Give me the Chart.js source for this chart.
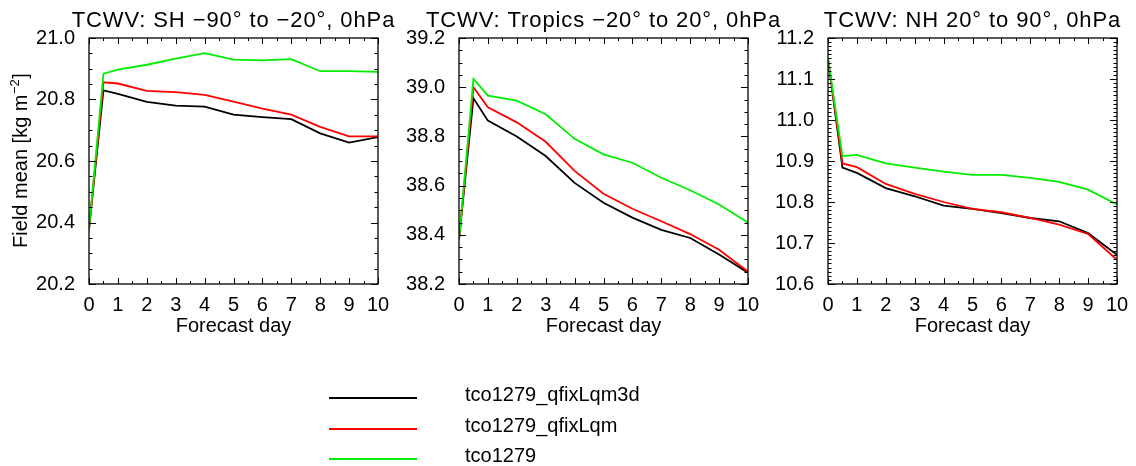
<!DOCTYPE html>
<html><head><meta charset="utf-8">
<script src="https://cdn.jsdelivr.net/npm/chart.js@4.4.1/dist/chart.umd.min.js"></script>
<style>
html,body{margin:0;padding:0;background:#fff;}
#wrap{position:relative;width:1136px;height:466px;overflow:hidden;background:#fff;}
canvas{position:absolute;left:0;top:0;}
</style></head><body>
<div id="wrap">
<canvas id="c1" width="1136" height="466"></canvas>
<canvas id="c2" width="1136" height="466"></canvas>
<canvas id="c3" width="1136" height="466"></canvas>
</div>
<script>
// ---------- data ----------
const days = [0, 0.5, 1, 2, 3, 4, 5, 6, 7, 8, 9, 10];
const xTickValues = [0, 1, 2, 3, 4, 5, 6, 7, 8, 9, 10];
const seriesNames = ['tco1279_qfixLqm3d', 'tco1279_qfixLqm', 'tco1279'];
const seriesColors = ['#000000', '#ff0000', '#00ee00'];
const panelTitles = [
  'TCWV: SH \u221290\u00b0 to \u221220\u00b0, 0hPa',
  'TCWV: Tropics \u221220\u00b0 to 20\u00b0, 0hPa',
  'TCWV: NH 20\u00b0 to 90\u00b0, 0hPa'
];
const xTitle = 'Forecast day';
const yTitleMain = 'Field mean [kg m';
const yTitleSup = '\u22122';
const yTitleEnd = ']';

const shBlack = [20.378, 20.830, 20.818, 20.792, 20.780, 20.777, 20.751, 20.743, 20.736, 20.690, 20.660, 20.678];
const shRed   = [20.378, 20.856, 20.852, 20.828, 20.824, 20.815, 20.793, 20.770, 20.751, 20.711, 20.680, 20.680];
const shGreen = [20.378, 20.884, 20.897, 20.913, 20.933, 20.951, 20.930, 20.927, 20.931, 20.892, 20.892, 20.890];

const trBlack = [38.38, 38.955, 38.864, 38.800, 38.720, 38.611, 38.530, 38.470, 38.420, 38.387, 38.320, 38.246];
const trRed   = [38.38, 39.000, 38.918, 38.857, 38.778, 38.660, 38.567, 38.506, 38.455, 38.403, 38.339, 38.250];
const trGreen = [38.38, 39.034, 38.966, 38.945, 38.890, 38.790, 38.727, 38.693, 38.632, 38.581, 38.523, 38.450];

const nhBlack = [11.149, 10.884, 10.871, 10.834, 10.814, 10.791, 10.783, 10.773, 10.761, 10.753, 10.724, 10.671];
const nhRed   = [11.149, 10.894, 10.885, 10.844, 10.820, 10.800, 10.783, 10.775, 10.761, 10.745, 10.722, 10.659];
const nhGreen = [11.149, 10.912, 10.915, 10.894, 10.884, 10.874, 10.866, 10.866, 10.859, 10.849, 10.830, 10.794];

const yTicksSH = [20.2, 20.4, 20.6, 20.8, 21.0];
const yTicksTR = [38.2, 38.4, 38.6, 38.8, 39.0, 39.2];
const yTicksNH = [10.6, 10.7, 10.8, 10.9, 11.0, 11.1, 11.2];

// ---------- layout ----------
const FONT = '"Liberation Sans", Arial, Helvetica, sans-serif';
Chart.defaults.font.family = FONT;
Chart.defaults.color = '#000';

const panels = [
  {id: 'c1', series: [shBlack, shRed, shGreen], yTicks: yTicksSH, yMajor: 0.2, yMinor: 0.05, plotLeft: 89, plotRight: 378, title: panelTitles[0], yTitle: true, legend: true},
  {id: 'c2', series: [trBlack, trRed, trGreen], yTicks: yTicksTR, yMajor: 0.2, yMinor: 0.05, plotLeft: 459, plotRight: 748, title: panelTitles[1], yTitle: false, legend: false},
  {id: 'c3', series: [nhBlack, nhRed, nhGreen], yTicks: yTicksNH, yMajor: 0.1, yMinor: 0.01, plotLeft: 828, plotRight: 1117, title: panelTitles[2], yTitle: false, legend: false}
];
const PLOT_TOP = 38, PLOT_BOTTOM = 284, YAXIS_W = 60, XAXIS_H = 60, W = 1136, H = 466;

function isMult(v, step) {
  const r = v / step;
  return Math.abs(r - Math.round(r)) < 1e-6;
}

const panelPlugin = {
  id: 'panel',
  afterDraw(chart, args, opt) {
    const ctx = chart.ctx;
    const {left, right, top, bottom} = chart.chartArea;
    const xs = chart.scales.x, ys = chart.scales.y;
    ctx.save();
    ctx.strokeStyle = '#000';
    ctx.lineWidth = 1;
    ctx.beginPath();
    const nx = Math.round((xs.max - xs.min) / opt.xMinor);
    for (let i = 0; i <= nx; i++) {
      const v = xs.min + i * opt.xMinor;
      const px = Math.round(xs.getPixelForValue(v)) + 0.5;
      const len = isMult(v, opt.xMajor) ? 6 : 3;
      ctx.moveTo(px, bottom); ctx.lineTo(px, bottom - len);
      ctx.moveTo(px, top); ctx.lineTo(px, top + len);
    }
    const ny = Math.round((ys.max - ys.min) / opt.yMinor);
    for (let i = 0; i <= ny; i++) {
      const v = ys.min + i * opt.yMinor;
      const py = Math.round(ys.getPixelForValue(v)) + 0.5;
      const len = isMult(v - ys.min, opt.yMajor) ? 7 : 3.5;
      ctx.moveTo(left, py); ctx.lineTo(left + len, py);
      ctx.moveTo(right, py); ctx.lineTo(right - len, py);
    }
    ctx.stroke();
    ctx.lineWidth = 1.3;
    ctx.strokeRect(left, top, right - left, bottom - top);

    // panel title
    ctx.fillStyle = '#000';
    ctx.font = '22px ' + FONT;
    ctx.textBaseline = 'alphabetic';
    ctx.textAlign = 'left';
    try { ctx.letterSpacing = '0.9px'; } catch (e) {}
    const tw = ctx.measureText(opt.title).width;
    ctx.fillText(opt.title, (left + right) / 2 - tw / 2, 27);
    try { ctx.letterSpacing = '0px'; } catch (e) {}

    // x title
    ctx.font = '20px ' + FONT;
    ctx.textAlign = 'center';
    ctx.fillText(xTitle, (left + right) / 2, 331.5);

    // y title
    if (opt.yTitle) {
      ctx.save();
      ctx.translate(19.8, 161);
      ctx.rotate(-Math.PI / 2);
      ctx.textAlign = 'left';
      ctx.font = '20px ' + FONT;
      const w1 = ctx.measureText(yTitleMain).width;
      const w3 = ctx.measureText(yTitleEnd).width;
      ctx.font = '13px ' + FONT;
      const w2 = ctx.measureText(yTitleSup).width;
      let x0 = -(w1 + w2 + w3) / 2;
      ctx.font = '20px ' + FONT;
      ctx.fillText(yTitleMain, x0, 7);
      ctx.font = '13px ' + FONT;
      ctx.fillText(yTitleSup, x0 + w1 + 0.5, -1);
      ctx.font = '20px ' + FONT;
      ctx.fillText(yTitleEnd, x0 + w1 + w2 + 1, 7);
      ctx.restore();
    }

    // legend
    if (opt.legend) {
      const rows = [398, 429, 459];
      ctx.font = '20px ' + FONT;
      ctx.textAlign = 'left';
      chart.data.datasets.forEach((ds, i) => {
        ctx.strokeStyle = ds.borderColor;
        ctx.lineWidth = 1.8;
        ctx.beginPath();
        ctx.moveTo(329, rows[i]); ctx.lineTo(417, rows[i]);
        ctx.stroke();
        ctx.fillStyle = '#000';
        ctx.fillText(ds.label, 465, rows[i] + 2.5);
      });
    }
    ctx.restore();
  }
};

panels.forEach(P => {
  const ctx = document.getElementById(P.id).getContext('2d');
  const yMin = P.yTicks[0], yMax = P.yTicks[P.yTicks.length - 1];
  new Chart(ctx, {
    type: 'line',
    data: {
      datasets: P.series.map((vals, i) => ({
        label: seriesNames[i],
        data: days.map((d, j) => ({x: d, y: vals[j]})),
        borderColor: seriesColors[i],
        borderWidth: 1.8,
        pointRadius: 0,
        tension: 0,
        fill: false,
        order: 3 - i
      }))
    },
    options: {
      responsive: false,
      animation: false,
      events: [],
      devicePixelRatio: 1,
      layout: {
        autoPadding: false,
        padding: {left: P.plotLeft - YAXIS_W, right: W - P.plotRight, top: PLOT_TOP, bottom: H - PLOT_BOTTOM - XAXIS_H}
      },
      plugins: {
        legend: {display: false},
        tooltip: {enabled: false},
        title: {display: false},
        panel: {title: P.title, yTitle: P.yTitle, legend: P.legend, xMajor: 1, xMinor: 0.5, yMajor: P.yMajor, yMinor: P.yMinor}
      },
      scales: {
        x: {
          type: 'linear', min: 0, max: 10,
          afterFit: s => { s.height = XAXIS_H; },
          afterBuildTicks: s => { s.ticks = xTickValues.map(v => ({value: v})); },
          grid: {display: false}, border: {display: false},
          ticks: {padding: 1, font: {size: 20}, color: '#000', maxRotation: 0, autoSkip: false, callback: v => String(v)}
        },
        y: {
          type: 'linear', min: yMin, max: yMax,
          afterFit: s => { s.width = YAXIS_W; },
          afterBuildTicks: s => { s.ticks = P.yTicks.map(v => ({value: v})); },
          grid: {display: false}, border: {display: false},
          ticks: {padding: 6, font: {size: 20}, color: '#000', autoSkip: false, callback: v => Number(v).toFixed(1)}
        }
      }
    },
    plugins: [panelPlugin]
  });
});
</script>
</body></html>
